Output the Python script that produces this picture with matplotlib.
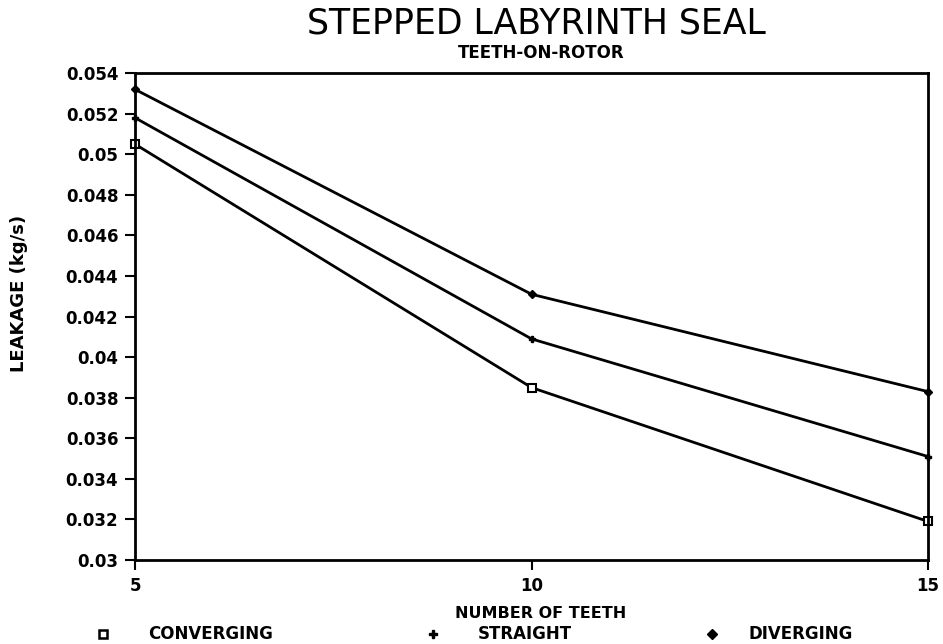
import matplotlib
matplotlib.use('Agg')
import matplotlib.pyplot as plt
from matplotlib.lines import Line2D

# data
teeth = [5, 10, 15]
converging = [0.0505, 0.0385, 0.0319]
straight = [0.0518, 0.0409, 0.0351]
diverging = [0.0532, 0.0431, 0.0383]
y_ticks = [0.03, 0.032, 0.034, 0.036, 0.038, 0.04, 0.042, 0.044, 0.046,
           0.048, 0.05, 0.052, 0.054]
y_labels = ['0.03', '0.032', '0.034', '0.036', '0.038', '0.04', '0.042',
            '0.044', '0.046', '0.048', '0.05', '0.052', '0.054']
names = ['CONVERGING', 'STRAIGHT', 'DIVERGING']

plt.rcParams['font.family'] = ['DejaVu Sans']
fig = plt.figure(figsize=(9.43, 6.44), dpi=100)
ax = fig.add_axes([0.1432, 0.1304, 0.841, 0.756])

ax.plot(teeth, converging, color='black', lw=2, marker='s', ms=6,
        mfc='white', mec='black', mew=1.5, clip_on=False)
ax.plot(teeth, straight, color='black', lw=2, marker='P', ms=4,
        clip_on=False)
ax.plot(teeth, diverging, color='black', lw=2, marker='D', ms=4,
        clip_on=False)

ax.set_xlim(5, 15)
ax.set_ylim(0.03, 0.054)
ax.set_xticks(teeth)
ax.set_xticklabels(['5', '10', '15'], fontsize=12, fontweight='bold')
ax.set_yticks(y_ticks)
ax.set_yticklabels(y_labels, fontsize=12, fontweight='bold')
ax.tick_params(direction='out', length=7, width=1.5, pad=5, colors='black')
for s in ax.spines.values():
    s.set_linewidth(2)

fig.text(0.020, 0.545, 'LEAKAGE (kg/s)', rotation=90, ha='center',
         va='center', fontsize=13, fontweight='bold')
fig.text(0.573, 1 - 613 / 644, 'NUMBER OF TEETH', ha='center', va='center',
         fontsize=11.5, fontweight='bold')
fig.text(0.569, 0.963, 'STEPPED LABYRINTH SEAL', ha='center', va='center',
         fontsize=25)
fig.text(0.574, 0.918, 'TEETH-ON-ROTOR', ha='center', va='center',
         fontsize=12, fontweight='bold')

# legend row along the bottom
mark_x = [103, 433, 712]
text_x = [148, 478, 748]
styles = [dict(marker='s', ms=6, mfc='white', mec='black', mew=1.8),
          dict(marker='P', ms=6, color='black'),
          dict(marker='D', ms=5, color='black')]
W, H = 943, 644
for mx, tx, st, nm in zip(mark_x, text_x, styles, names):
    fig.add_artist(Line2D([mx / W], [1 - 634 / H], ls='none',
                          transform=fig.transFigure, **st))
    fig.text(tx / W, 1 - 634 / H, nm, ha='left', va='center', fontsize=12,
             fontweight='bold')

fig.savefig('out.png', dpi=100)
